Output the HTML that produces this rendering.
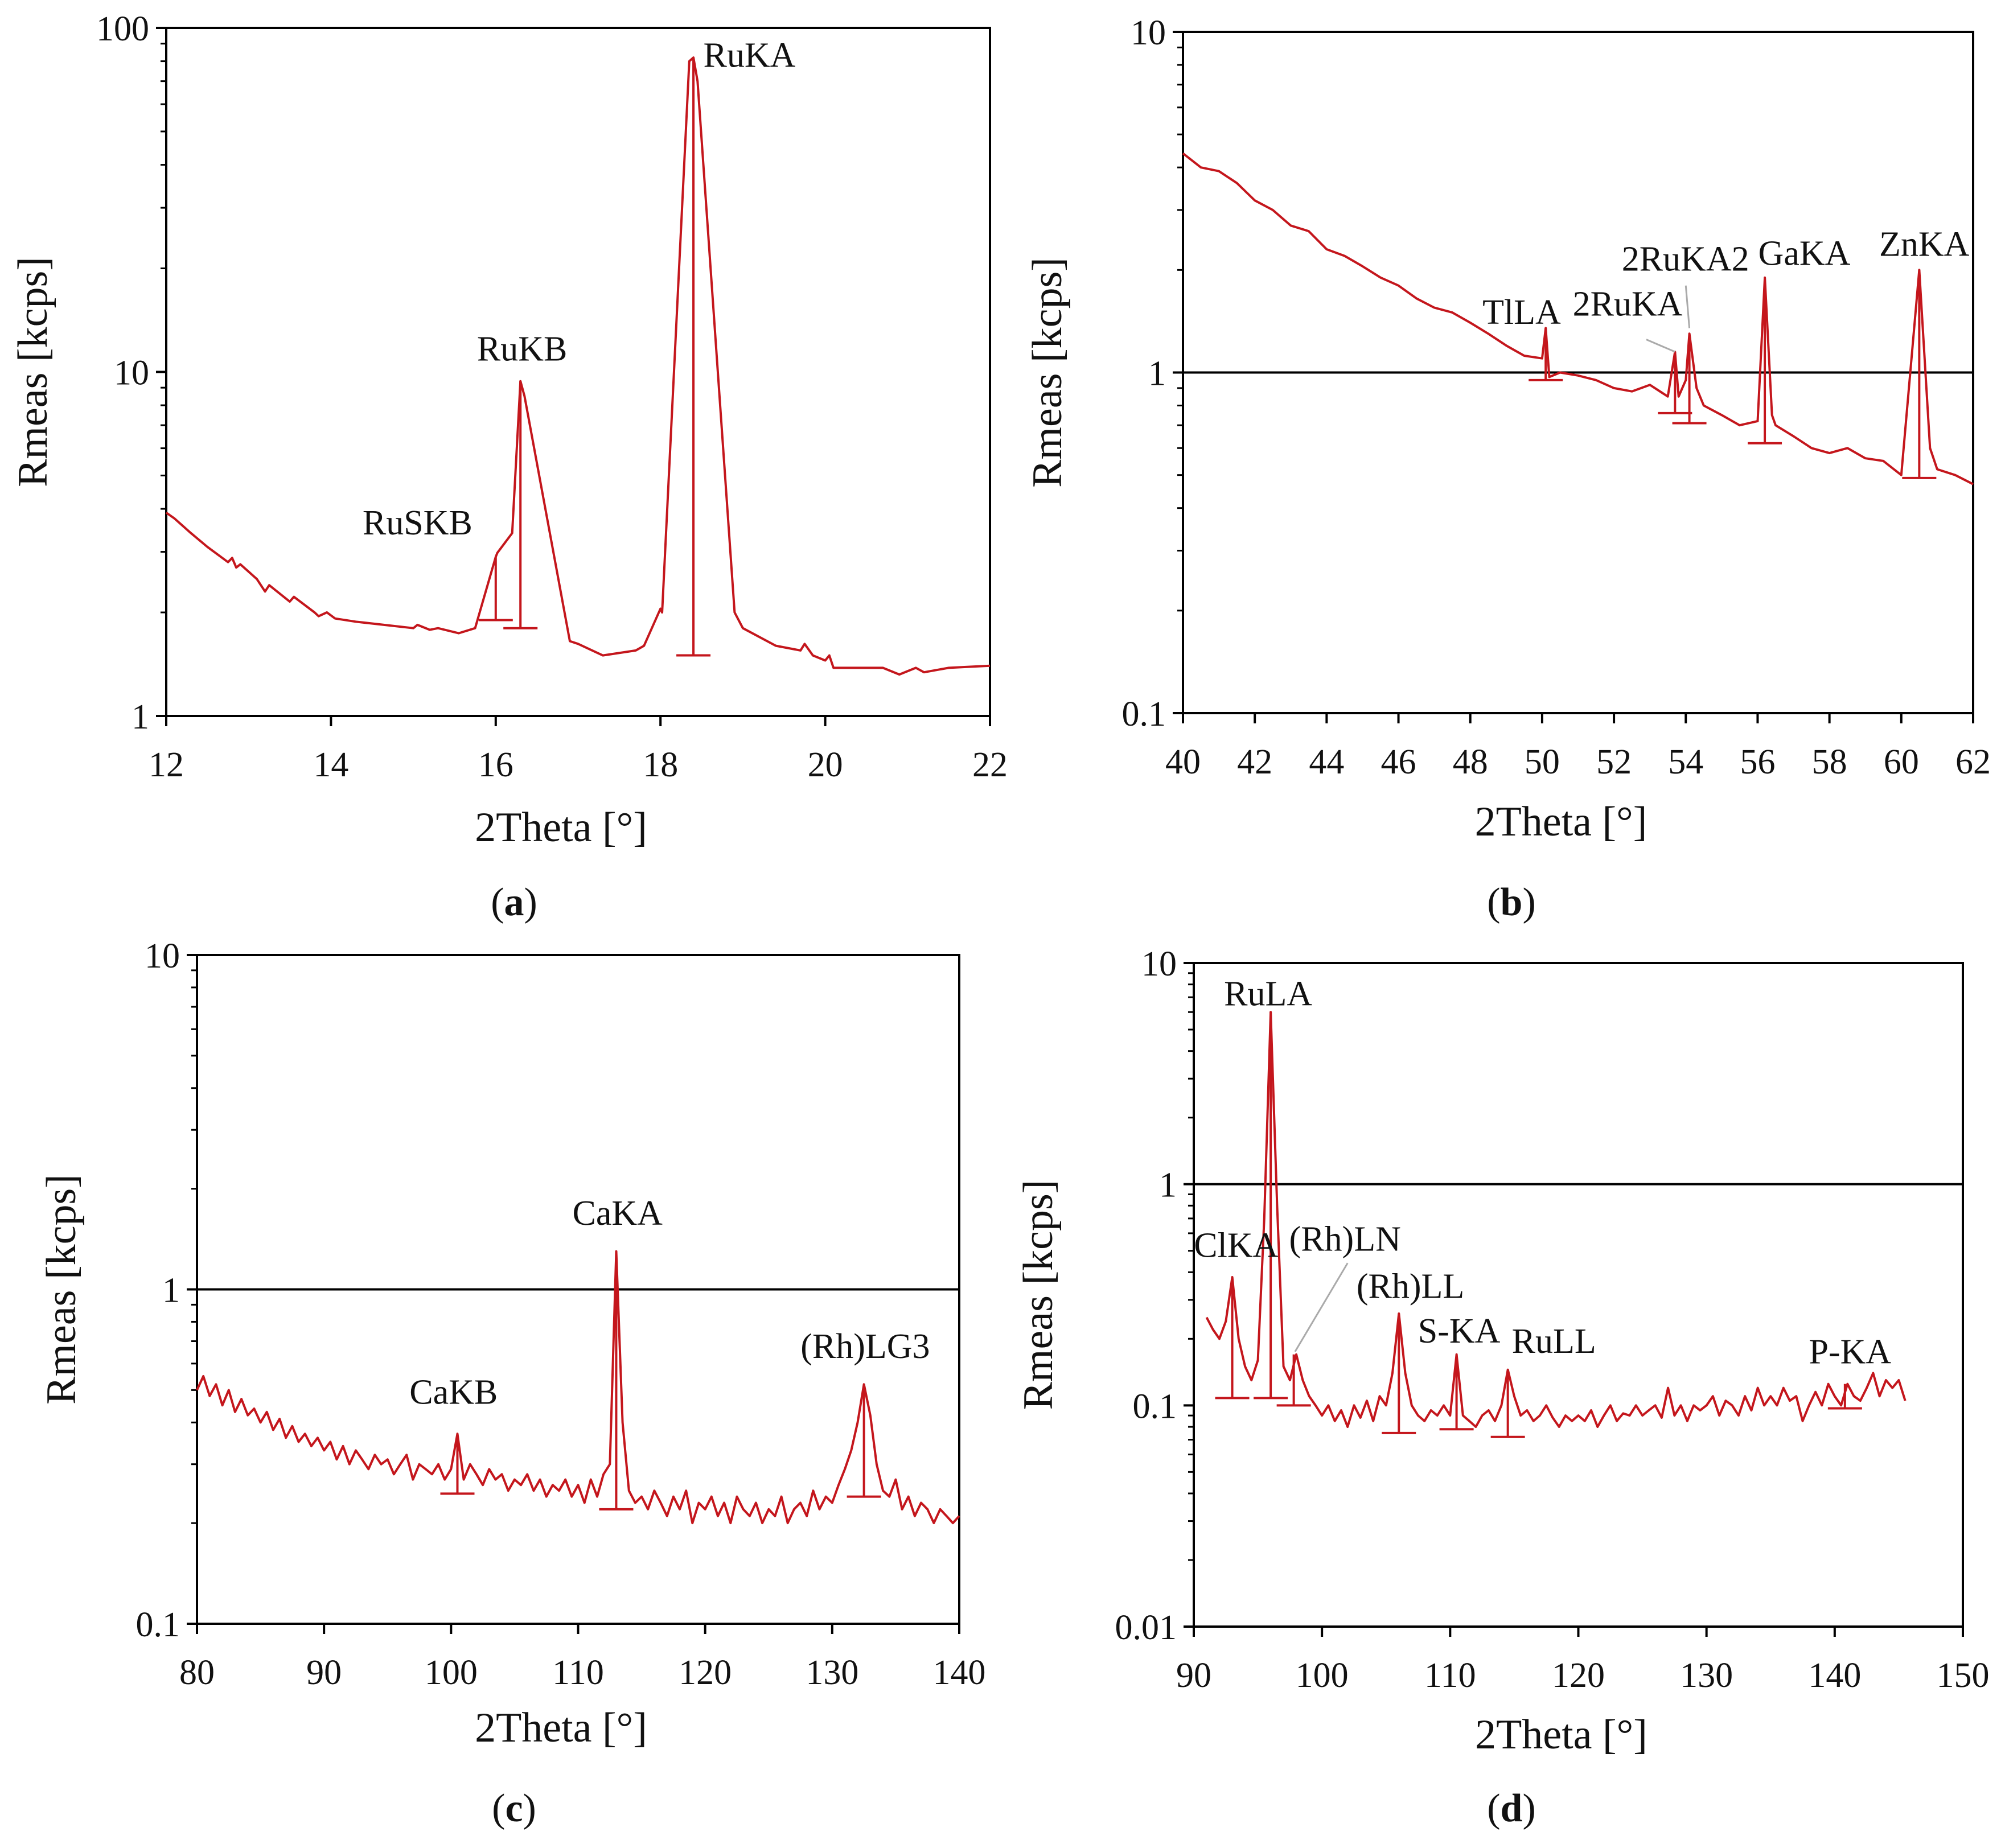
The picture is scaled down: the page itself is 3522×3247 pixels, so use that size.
<!DOCTYPE html>
<html><head><meta charset="utf-8">
<style>
html,body{margin:0;padding:0;background:#fff;}
svg{display:block;font-family:"Liberation Serif",serif;}
</style></head>
<body>
<svg id="fig" width="3522" height="3247" viewBox="0 0 3522 3247" xmlns="http://www.w3.org/2000/svg"></svg>
<script>
// ---------- Panel (a) data ----------
const aX = [12,12.1,12.3,12.5,12.75,12.8,12.85,12.9,13.1,13.2,13.25,13.5,13.55,13.8,13.85,13.95,14.05,14.3,15,15.05,15.2,15.3,15.55,15.75,16,16.02,16.2,16.3,16.35,16.9,17.0,17.3,17.7,17.8,18.0,18.02,18.35,18.4,18.45,18.9,19.0,19.4,19.7,19.75,19.85,20.0,20.05,20.1,20.7,20.9,21.1,21.2,21.5,22];
const aY = [3.9,3.75,3.4,3.1,2.8,2.88,2.7,2.76,2.5,2.3,2.4,2.15,2.22,2.0,1.95,2.0,1.92,1.88,1.8,1.84,1.78,1.8,1.74,1.8,2.9,2.98,3.4,9.4,8.5,1.65,1.62,1.5,1.55,1.6,2.05,2.0,80,82,70,2.0,1.8,1.6,1.55,1.62,1.5,1.45,1.5,1.38,1.38,1.32,1.38,1.34,1.38,1.4];
const aMarkX = [16.0,16.3,18.4];
const aMarkTop = [2.9,9.4,82];
const aMarkBot = [1.9,1.8,1.5];
const aLabels = ["RuSKB","RuKB","RuKA"];
const aLabelX = [15.05,16.32,19.08];
const aLabelY = [3.37,10.8,77];
const aXTicks = [12,14,16,18,20,22];
const aYTicks = ["1","10","100"];

// ---------- Panel (b) data ----------
const bX = [40,40.5,41,41.5,42,42.5,43,43.5,44,44.5,45,45.5,46,46.5,47,47.5,48,48.5,49,49.5,50,50.1,50.2,50.5,51,51.5,52,52.5,53,53.5,53.7,53.8,54,54.1,54.3,54.5,55,55.5,56,56.2,56.4,56.5,57,57.5,58,58.5,59,59.5,60,60.5,60.8,61,61.5,62];
const bY = [4.4,4.0,3.9,3.6,3.2,3.0,2.7,2.6,2.3,2.2,2.05,1.9,1.8,1.65,1.55,1.5,1.4,1.3,1.2,1.12,1.1,1.35,0.97,1.0,0.98,0.95,0.9,0.88,0.92,0.85,1.15,0.85,0.95,1.3,0.9,0.8,0.75,0.7,0.72,1.9,0.75,0.7,0.65,0.6,0.58,0.6,0.56,0.55,0.5,2.0,0.6,0.52,0.5,0.47];
const bMarkX = [50.1,53.7,54.1,56.2,60.5];
const bMarkTop = [1.35,1.15,1.3,1.9,2.0];
const bMarkBot = [0.95,0.76,0.71,0.62,0.49];
const bLabels = ["TlLA","2RuKA","2RuKA2","GaKA","ZnKA"];
const bLabelX = [49.43,52.38,53.99,57.3,60.64];
const bLabelY = [1.39,1.47,1.99,2.07,2.2];
const bXTicks = [40,42,44,46,48,50,52,54,56,58,60,62];
const bYTicks = ["0.1","1","10"];

// ---------- Panel (c) data (x from 80 step 0.5) ----------
const cXStart = 80, cXStep = 0.5;
const cY = [.5,.55,.48,.52,.45,.5,.43,.47,.42,.44,
.4,.43,.38,.41,.36,.39,.35,.37,.34,.36,
.33,.35,.31,.34,.3,.33,.31,.29,.32,.3,
.31,.28,.3,.32,.27,.3,.29,.28,.3,.27,
.29,.37,.27,.3,.28,.26,.29,.27,.28,.25,
.27,.26,.28,.25,.27,.24,.26,.25,.27,.24,
.26,.23,.27,.24,.28,.3,1.3,.4,.25,.23,
.24,.22,.25,.23,.21,.24,.22,.25,.2,.23,
.22,.24,.21,.23,.2,.24,.22,.21,.23,.2,
.22,.21,.24,.2,.22,.23,.21,.25,.22,.24,
.23,.26,.29,.33,.4,.52,.42,.3,.25,.24,
.27,.22,.24,.21,.23,.22,.2,.22,.21,.2,
.21];
const cMarkX = [100.5,113,132.5];
const cMarkTop = [.37,1.3,.52];
const cMarkBot = [.245,.22,.24];
const cLabels = ["CaKB","CaKA","(Rh)LG3"];
const cLabelX = [100.2,113.1,132.6];
const cLabelY = [.455,1.56,.624];
const cXTicks = [80,90,100,110,120,130,140];
const cYTicks = ["0.1","1","10"];

// ---------- Panel (d) data ----------
const dX0 = [91,91.5,92,92.5,93,93.5,94,94.5,95,95.5];
const dY0 = [.25,.22,.2,.24,.38,.2,.15,.13,.16,.7];
const dXStart = 96, dXStep = 0.5;
const dY = [6,.8,.15,.13,.17,.13,.11,.1,
.09,.1,.085,.095,.08,.1,.088,.105,.085,.11,
.1,.14,.26,.14,.1,.09,.085,.095,.09,.1,
.09,.17,.09,.085,.08,.09,.095,.085,.1,.145,
.11,.09,.095,.085,.09,.1,.088,.08,.09,.085,
.09,.085,.095,.08,.09,.1,.085,.092,.09,.1,
.09,.095,.1,.088,.12,.09,.1,.085,.1,.095,
.1,.11,.09,.105,.1,.09,.11,.095,.12,.1,
.11,.1,.12,.105,.11,.085,.1,.115,.1,.125,
.11,.1,.125,.11,.105,.12,.14,.11,.13,.12,
.13,.105];
const dMarkX = [93,96,97.8,106,110.5,114.5,140.8];
const dMarkTop = [.38,6,.17,.26,.17,.145,.125];
const dMarkBot = [.108,.108,.1,.075,.078,.072,.097];
const dLabels = ["ClKA","RuLA","(Rh)LN","(Rh)LL","S-KA","RuLL","P-KA"];
const dLabelX = [93.3,95.8,101.8,106.9,110.7,118.1,141.2];
const dLabelY = [.469,6.44,.5,.306,.192,.173,.155];
const dXTicks = [90,100,110,120,130,140,150];
const dYTicks = ["0.01","0.1","1","10"];

const RED = "#c4161c";
const NS = "http://www.w3.org/2000/svg";
const svg = document.getElementById("fig");
function mk(tag, attrs, parent){
  const e = document.createElementNS(NS, tag);
  for (const k in attrs) e.setAttribute(k, attrs[k]);
  (parent||svg).appendChild(e);
  return e;
}

function panel(id, box, xr, yr, xs, ys, marks, labels, opts){
  const g = mk("g", {});
  
  
  const L=box[0], R=box[1], T=box[2], B=box[3];
  const sx = v => L + (v - xr[0])/(xr[1]-xr[0])*(R-L);
  const ly0 = Math.log10(yr[0]), ly1 = Math.log10(yr[1]);
  const sy = v => B - (Math.log10(v)-ly0)/(ly1-ly0)*(B-T);
  const fr = mk("rect", {x:L,y:T,width:R-L,height:B-T,fill:"none",stroke:"#000","stroke-width":4}, g);
  
  
  if (opts.hline){
    const hl = mk("line",{x1:L,x2:R,y1:sy(1),y2:sy(1),stroke:"#000","stroke-width":4},g);
    
    
  }
  for (let d = ly0; d <= ly1; d++){
    const base = Math.pow(10,d);
    const yy = sy(base);
    const t = mk("line",{x1:L-18,x2:L,y1:yy,y2:yy,stroke:"#000","stroke-width":4},g);
    
    
    if (d < ly1){
      for (let m = 2; m <= 9; m++){
        const my = sy(base*m);
        const mt = mk("line",{x1:L-10,x2:L,y1:my,y2:my,stroke:"#000","stroke-width":3},g);
        
        
      }
    }
  }
  ys.forEach(s => {
    const tx = mk("text",{x:L-30,y:sy(parseFloat(s))+22,"font-size":62,"text-anchor":"end",fill:"#111"},g);
    tx.textContent = s;
    
    
  });
  xs.forEach(v => {
    const xx = sx(v);
    const t = mk("line",{x1:xx,x2:xx,y1:B,y2:B+18,stroke:"#000","stroke-width":4},g);
    
    
    const tx = mk("text",{x:xx,y:B+106,"font-size":62,"text-anchor":"middle",fill:"#111"},g);
    tx.textContent = String(v);
    
    
  });
  const pts = opts.X.map((x,i)=> sx(x).toFixed(1)+","+sy(opts.Y[i]).toFixed(1)).join(" ");
  const pl = mk("polyline",{points:pts,fill:"none",stroke:RED,"stroke-width":4,"stroke-linejoin":"round"},g);
  
  
  marks[0].forEach((mx,i)=>{
    const xx = sx(mx);
    const ml = mk("line",{x1:xx,x2:xx,y1:sy(marks[1][i]),y2:sy(marks[2][i]),stroke:RED,"stroke-width":4},g);
    
    
    const mc = mk("line",{x1:xx-30,x2:xx+30,y1:sy(marks[2][i]),y2:sy(marks[2][i]),stroke:RED,"stroke-width":4},g);
    
    
  });
  labels[0].forEach((s,i)=>{
    const tx = mk("text",{x:sx(labels[1][i]),y:sy(labels[2][i]),"font-size":62,"text-anchor":"middle",fill:"#111"},g);
    tx.textContent = s;
    
    
  });
  const yt = mk("text",{x:0,y:0,"font-size":74,"text-anchor":"middle",fill:"#111",transform:"translate("+opts.ytx+","+((T+B)/2)+") rotate(-90)"},g);
  yt.textContent = "Rmeas [kcps]";
  
  
  const xt = mk("text",{x:(L+R)/2-30,y:opts.xty,"font-size":74,"text-anchor":"middle",fill:"#111"},g);
  xt.textContent = "2Theta [°]";
  
  
  const cap = mk("text",{x:opts.capx,y:opts.capy,"font-size":70,"text-anchor":"middle",fill:"#111"},g);
  cap.innerHTML = '(<tspan font-weight="bold">'+id+'</tspan>)';
  
  
  return {sx, sy, g};
}

panel("a",[292,1739,49,1258],[12,22],[1,100],aXTicks,aYTicks,[aMarkX,aMarkTop,aMarkBot],[aLabels,aLabelX,aLabelY],
  {X:aX,Y:aY,ytx:82,xty:1478,capx:903,capy:1608,hline:false});

const pb = panel("b",[2078,3466,56,1253],[40,62],[0.1,10],bXTicks,bYTicks,[bMarkX,bMarkTop,bMarkBot],[bLabels,bLabelX,bLabelY],
  {X:bX,Y:bY,ytx:1864,xty:1468,capx:2655,capy:1608,hline:true});
const lb1 = mk("line",{x1:pb.sx(52.9),y1:pb.sy(1.25),x2:pb.sx(53.7),y2:pb.sy(1.15),stroke:"#aaa","stroke-width":3},pb.g);


const lb2 = mk("line",{x1:pb.sx(54.0),y1:pb.sy(1.8),x2:pb.sx(54.1),y2:pb.sy(1.35),stroke:"#aaa","stroke-width":3},pb.g);



const cX = cY.map((_,i)=> cXStart + i*cXStep);
panel("c",[346,1685,1678,2853],[80,140],[0.1,10],cXTicks,cYTicks,[cMarkX,cMarkTop,cMarkBot],[cLabels,cLabelX,cLabelY],
  {X:cX,Y:cY,ytx:132,xty:3060,capx:903,capy:3200,hline:true});

const dXAll = dX0.concat(dY.map((_,i)=> dXStart + i*dXStep));
const dYAll = dY0.concat(dY);
const pd = panel("d",[2097,3448,1692,2858],[90,150],[0.01,10],dXTicks,dYTicks,[dMarkX,dMarkTop,dMarkBot],[dLabels,dLabelX,dLabelY],
  {X:dXAll,Y:dYAll,ytx:1848,xty:3072,capx:2655,capy:3200,hline:true});
const ld = mk("line",{x1:pd.sx(102.0),y1:pd.sy(0.44),x2:pd.sx(97.9),y2:pd.sy(0.175),stroke:"#aaa","stroke-width":3},pd.g);


</script>
</body></html>
